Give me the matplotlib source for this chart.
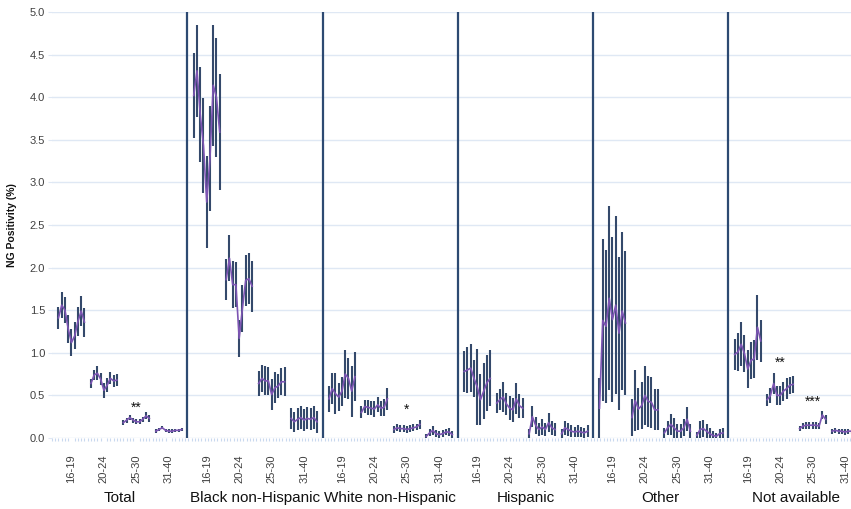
#!/usr/bin/env python3

import matplotlib
matplotlib.use('Agg')
import matplotlib.pyplot as plt
import matplotlib.transforms as mtransforms
import numpy as np

plt.rcParams['font.family'] = ['Liberation Sans', 'DejaVu Sans']

######################
# Data
######################
GROUPS = ["Total", "Black non-Hispanic", "White non-Hispanic", "Hispanic", "Other", "Not available"]
AGES = ["16-19", "20-24", "25-30", "31-40"]

# positivity estimate (%) per age band, one value per period, and CI half-width
total_mid = [[1.41, 1.56, 1.50, 1.28, 1.12, 1.20, 1.37, 1.49, 1.36],
             [0.64, 0.74, 0.76, 0.69, 0.56, 0.62, 0.70, 0.67, 0.68],
             [0.18, 0.21, 0.24, 0.21, 0.19, 0.19, 0.22, 0.26, 0.23],
             [0.08, 0.10, 0.12, 0.09, 0.08, 0.08, 0.09, 0.09, 0.10]]
total_err = [[0.13, 0.15, 0.15, 0.16, 0.16, 0.16, 0.17, 0.18, 0.17],
             [0.05, 0.06, 0.08, 0.07, 0.09, 0.08, 0.07, 0.07, 0.07],
             [0.03, 0.03, 0.03, 0.03, 0.03, 0.03, 0.03, 0.04, 0.04],
             [0.02, 0.02, 0.02, 0.02, 0.02, 0.02, 0.02, 0.02, 0.02]]

black_mid = [[4.02, 4.31, 3.80, 3.43, 2.77, 3.28, 4.14, 4.00, 3.59],
             [1.86, 2.11, 1.80, 1.80, 1.17, 1.52, 1.85, 1.87, 1.78],
             [0.64, 0.70, 0.67, 0.67, 0.51, 0.59, 0.61, 0.66, 0.66],
             [0.23, 0.19, 0.22, 0.24, 0.21, 0.23, 0.22, 0.24, 0.19]]
black_err = [[0.50, 0.54, 0.56, 0.56, 0.54, 0.62, 0.71, 0.70, 0.68],
             [0.24, 0.27, 0.28, 0.26, 0.22, 0.28, 0.30, 0.30, 0.30],
             [0.15, 0.16, 0.17, 0.16, 0.18, 0.18, 0.14, 0.16, 0.17],
             [0.12, 0.12, 0.13, 0.13, 0.13, 0.13, 0.13, 0.13, 0.13]]

white_mid = [[0.46, 0.58, 0.52, 0.48, 0.55, 0.75, 0.70, 0.55, 0.72],
             [0.30, 0.37, 0.36, 0.35, 0.34, 0.39, 0.35, 0.36, 0.46],
             [0.10, 0.12, 0.11, 0.11, 0.10, 0.11, 0.12, 0.13, 0.16],
             [0.02, 0.06, 0.09, 0.05, 0.04, 0.05, 0.07, 0.07, 0.04]]
white_err = [[0.15, 0.18, 0.24, 0.16, 0.17, 0.28, 0.24, 0.30, 0.29],
             [0.07, 0.08, 0.09, 0.08, 0.09, 0.09, 0.09, 0.10, 0.13],
             [0.04, 0.04, 0.04, 0.04, 0.04, 0.04, 0.04, 0.04, 0.05],
             [0.03, 0.04, 0.05, 0.04, 0.04, 0.04, 0.04, 0.05, 0.04]]

hisp_mid = [[0.78, 0.80, 0.82, 0.70, 0.60, 0.45, 0.55, 0.65, 0.70],
            [0.41, 0.45, 0.48, 0.40, 0.35, 0.33, 0.46, 0.38, 0.35],
            [0.05, 0.25, 0.15, 0.10, 0.13, 0.10, 0.18, 0.12, 0.10],
            [0.05, 0.12, 0.10, 0.08, 0.07, 0.08, 0.07, 0.06, 0.08]]
hisp_err = [[0.24, 0.27, 0.28, 0.22, 0.45, 0.30, 0.33, 0.33, 0.33],
            [0.12, 0.12, 0.18, 0.13, 0.14, 0.14, 0.18, 0.14, 0.12],
            [0.06, 0.12, 0.10, 0.08, 0.09, 0.08, 0.11, 0.08, 0.08],
            [0.06, 0.08, 0.08, 0.07, 0.06, 0.07, 0.06, 0.06, 0.07]]

other_mid = [[0.35, 1.38, 1.31, 1.64, 1.39, 1.56, 1.23, 1.49, 1.35],
             [0.24, 0.44, 0.34, 0.38, 0.50, 0.43, 0.42, 0.33, 0.33],
             [0.06, 0.12, 0.16, 0.12, 0.08, 0.08, 0.12, 0.22, 0.08],
             [0.03, 0.10, 0.11, 0.08, 0.05, 0.03, 0.02, 0.05, 0.06]]
other_err = [[0.35, 0.95, 0.90, 1.08, 0.97, 1.04, 0.90, 0.93, 0.84],
             [0.22, 0.36, 0.25, 0.28, 0.35, 0.30, 0.30, 0.24, 0.24],
             [0.06, 0.08, 0.12, 0.12, 0.09, 0.09, 0.10, 0.14, 0.08],
             [0.04, 0.10, 0.10, 0.08, 0.07, 0.05, 0.04, 0.06, 0.06]]

na_mid = [[0.98, 1.01, 1.10, 0.99, 0.81, 0.91, 0.93, 1.30, 1.14],
          [0.45, 0.50, 0.64, 0.50, 0.50, 0.55, 0.58, 0.62, 0.63],
          [0.11, 0.14, 0.15, 0.15, 0.15, 0.15, 0.14, 0.27, 0.22],
          [0.08, 0.09, 0.08, 0.08, 0.07, 0.08, 0.08, 0.08, 0.09]]
na_err = [[0.18, 0.22, 0.26, 0.22, 0.22, 0.22, 0.22, 0.38, 0.25],
          [0.07, 0.09, 0.12, 0.11, 0.11, 0.11, 0.12, 0.10, 0.10],
          [0.03, 0.04, 0.04, 0.04, 0.04, 0.04, 0.04, 0.05, 0.05],
          [0.03, 0.03, 0.03, 0.03, 0.03, 0.03, 0.03, 0.03, 0.03]]

# significance marks: (group index, age index, y position, text)
STARS = [(0, 2, 0.36, "**"), (2, 2, 0.33, "*"), (5, 1, 0.88, "**"), (5, 2, 0.43, "***")]

ALL_MID = [total_mid, black_mid, white_mid, hisp_mid, other_mid, na_mid]
ALL_ERR = [total_err, black_err, white_err, hisp_err, other_err, na_err]

###################
# layout
###################
GROUP_W = 41.68   # slots per race group
CLUSTER_W = 10    # slots per age band
OFFSET = 2        # first point after separator

BAR_COL = '#34496b'
LINE_COL = '#7d55b3'
SEP_COL = '#2d4a72'
GRID_COL = '#dfe8f4'
TXT_COL = '#404040'

fig = plt.figure(figsize=(8.51, 5.09), dpi=100)
ax = fig.add_axes([52/851, 71/509, 799/851, 426/509])

tick_pos = []
tick_lab = []
for g in range(len(GROUPS)):
    for c in range(len(AGES)):
        mid = np.array(ALL_MID[g][c])
        err = np.array(ALL_ERR[g][c])
        x = g*GROUP_W + OFFSET + c*CLUSTER_W + np.arange(len(mid))
        lo = np.clip(mid - err, 0, None)
        hi = mid + err
        ax.vlines(x, lo, hi, color=BAR_COL, lw=1.5, zorder=3)
        ax.plot(x, mid, color=LINE_COL, lw=1.2, zorder=4)
        tick_pos.append(x[4])
        tick_lab.append(AGES[c])

for g in range(1, len(GROUPS)):
    ax.axvline(g*GROUP_W, color=SEP_COL, lw=1.6, zorder=5)

for g, c, y, s in STARS:
    xc = g*GROUP_W + OFFSET + c*CLUSTER_W + 4
    ax.text(xc, y, s, ha='center', va='center', fontsize=10, color='#111111')

# group names under the axis
trans = mtransforms.blended_transform_factory(ax.transData, ax.transAxes)
for g, name in enumerate(GROUPS):
    ax.text(g*GROUP_W + GROUP_W/2, -0.14, name, transform=trans,
            ha='center', va='center', fontsize=11, color='#111111')

ax.set_xlim(0, 799/3.245)
ax.set_ylim(0, 5.0)
ax.set_yticks(np.arange(0, 5.01, 0.5))
ax.set_yticklabels(["%.1f" % v for v in np.arange(0, 5.01, 0.5)], fontsize=8, color=TXT_COL)
ax.set_xticks(tick_pos)
ax.set_xticklabels(tick_lab, rotation=90, fontsize=8, color=TXT_COL)
ax.set_xticks(np.arange(0, 799/3.245, 1.0), minor=True)

ax.tick_params(axis='x', which='major', length=0, pad=12)
ax.tick_params(axis='x', which='minor', length=2.5, color='#c9d9ee', width=0.8)
ax.tick_params(axis='y', length=3, color=GRID_COL, pad=2)

ax.grid(axis='y', color=GRID_COL, lw=1.0, zorder=0)
ax.set_axisbelow(True)
for sp in ax.spines.values():
    sp.set_visible(False)

ax.set_ylabel("NG Positivity (%)", fontsize=7.5, fontweight='bold', color='#111111', labelpad=9)

fig.savefig('out.png', dpi=100)
